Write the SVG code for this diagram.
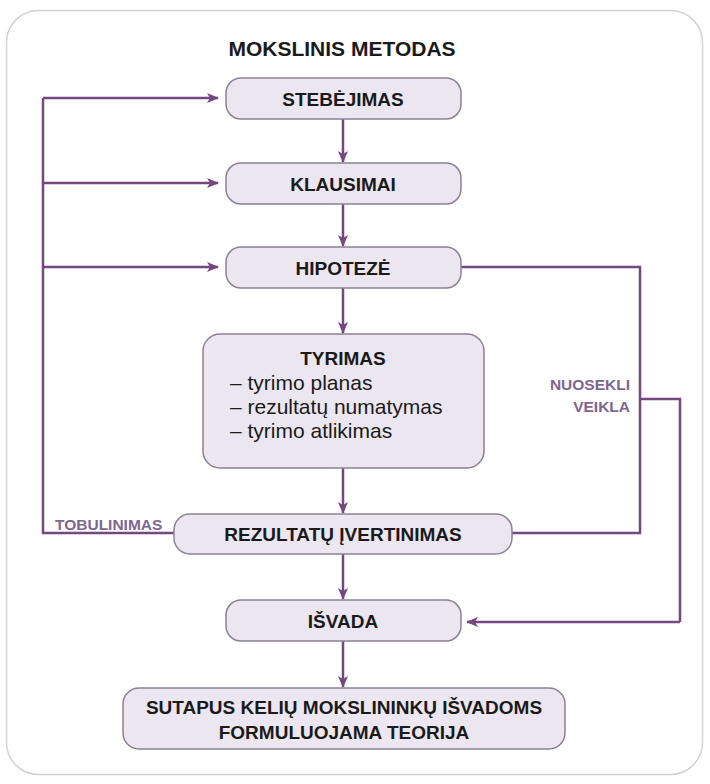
<svg xmlns="http://www.w3.org/2000/svg" width="710" height="784" viewBox="0 0 710 784">
<defs>
<marker id="ah" viewBox="0 0 12 10" refX="11" refY="5" markerWidth="12" markerHeight="10" markerUnits="userSpaceOnUse" orient="auto">
<path d="M0,0 L12,5 L0,10 L3,5 z" fill="#74487f"/>
</marker>
</defs>
<style>
.box{fill:#ece6f0;stroke:#8b8292;stroke-width:1.5}
.lbl{font-family:"Liberation Sans",Arial,sans-serif;font-weight:bold;font-size:19px;fill:#1a1a1a;text-anchor:middle}
.item{font-family:"Liberation Sans",Arial,sans-serif;font-size:21px;fill:#1a1a1a}
.side{font-family:"Liberation Sans",Arial,sans-serif;font-weight:bold;fill:#7d6690}
.ln{fill:none;stroke:#74487f;stroke-width:2.5}
</style>
<rect x="6.5" y="10.5" width="696" height="764" rx="32" fill="#ffffff" stroke="#d2d2d2" stroke-width="1.5"/>
<text x="342" y="56" class="lbl" style="font-size:21px">MOKSLINIS METODAS</text>
<g id="connectors">
<line class="ln" x1="343" y1="119" x2="343" y2="162" marker-end="url(#ah)"/>
<line class="ln" x1="343" y1="204" x2="343" y2="246" marker-end="url(#ah)"/>
<line class="ln" x1="343" y1="288" x2="343" y2="333" marker-end="url(#ah)"/>
<line class="ln" x1="343" y1="468" x2="343" y2="513" marker-end="url(#ah)"/>
<line class="ln" x1="343" y1="554" x2="343" y2="599" marker-end="url(#ah)"/>
<line class="ln" x1="343" y1="641" x2="343" y2="687" marker-end="url(#ah)"/>
<polyline class="ln" points="174,533 43,533 43,98"/>
<line class="ln" x1="43" y1="98" x2="218" y2="98" marker-end="url(#ah)"/>
<line class="ln" x1="43" y1="183" x2="218" y2="183" marker-end="url(#ah)"/>
<line class="ln" x1="43" y1="267" x2="218" y2="267" marker-end="url(#ah)"/>
<polyline class="ln" points="461,267 640,267 640,533 512,533"/>
<polyline class="ln" points="640,399 680,399 680,622"/>
<line class="ln" x1="680" y1="622" x2="467" y2="622" marker-end="url(#ah)"/>
<text x="55" y="530" class="side" style="font-size:15.5px">TOBULINIMAS</text>
<text x="630" y="390" class="side" style="font-size:15.5px" text-anchor="end">NUOSEKLI</text>
<text x="630" y="412" class="side" style="font-size:15.5px" text-anchor="end">VEIKLA</text>
</g>
<g id="stebejimas">
<rect class="box" x="226" y="78" width="235" height="41" rx="15"/>
<text class="lbl" x="343" y="106">STEBĖJIMAS</text>
</g>
<g id="klausimai">
<rect class="box" x="226" y="163" width="235" height="41" rx="15"/>
<text class="lbl" x="343" y="191">KLAUSIMAI</text>
</g>
<g id="hipoteze">
<rect class="box" x="226" y="247" width="235" height="41" rx="15"/>
<text class="lbl" x="343" y="275">HIPOTEZĖ</text>
</g>
<g id="tyrimas">
<rect class="box" x="203" y="334" width="281" height="134" rx="17"/>
<text class="lbl" x="343" y="365">TYRIMAS</text>
<text class="item" x="230" y="390">– tyrimo planas</text>
<text class="item" x="230" y="414">– rezultatų numatymas</text>
<text class="item" x="230" y="438">– tyrimo atlikimas</text>
</g>
<g id="rezultatu">
<rect class="box" x="174" y="514" width="338" height="40" rx="16"/>
<text class="lbl" x="343" y="541">REZULTATŲ ĮVERTINIMAS</text>
</g>
<g id="isvada">
<rect class="box" x="226" y="600" width="235" height="41" rx="15"/>
<text class="lbl" x="343" y="628">IŠVADA</text>
</g>
<g id="teorija">
<rect class="box" x="123" y="688" width="442" height="61" rx="16"/>
<text class="lbl" x="344" y="714">SUTAPUS KELIŲ MOKSLININKŲ IŠVADOMS</text>
<text class="lbl" x="344" y="739">FORMULUOJAMA TEORIJA</text>
</g>
</svg>
